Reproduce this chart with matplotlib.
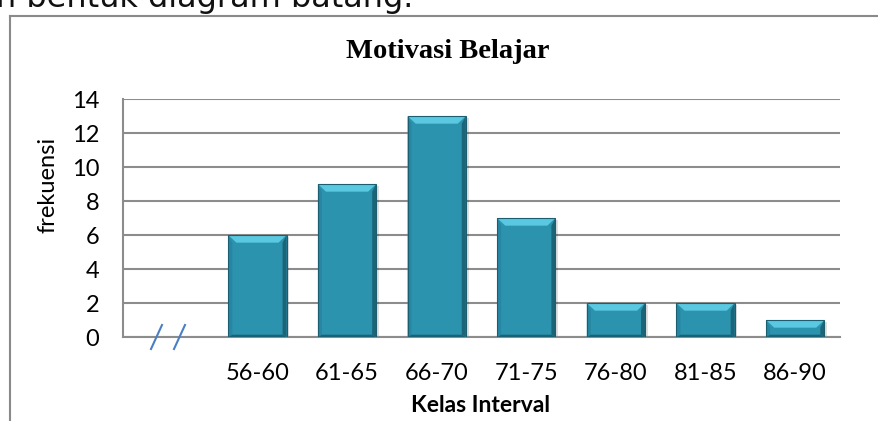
import matplotlib
matplotlib.use("Agg")
import matplotlib.pyplot as plt
from matplotlib.patches import Polygon, Rectangle
from matplotlib.lines import Line2D

# data
kelas = ["", "56-60", "61-65", "66-70", "71-75", "76-80", "81-85", "86-90"]
frekuensi = [0, 6, 9, 13, 7, 2, 2, 1]
y_ticks = [0, 2, 4, 6, 8, 10, 12, 14]

W, H = 879, 421
BAR_W = 0.65
GRID = "#8c8c8c"

fig = plt.figure(figsize=(W / 100, H / 100), dpi=100)
ax = fig.add_axes([123 / W, 1 - 337 / H, (840 - 123) / W, (337 - 99) / H])

x = list(range(len(kelas)))
ax.set_xlim(-0.5, len(kelas) - 0.5)
ax.set_ylim(0, 14)
ax.set_yticks(y_ticks)
ax.set_xticks(x)
ax.set_xticklabels(kelas)
ax.yaxis.grid(True, color=GRID, linewidth=1.5)
ax.set_axisbelow(True)
for s in ["top", "right"]:
    ax.spines[s].set_visible(False)
for s in ["left", "bottom"]:
    ax.spines[s].set_color(GRID)
    ax.spines[s].set_linewidth(1.5)
ax.tick_params(length=0, labelsize=17, colors="black")
ax.tick_params(axis="y", pad=17)
ax.tick_params(axis="x", pad=19)
for t in ax.get_xticklabels() + ax.get_yticklabels():
    t.set_fontfamily("Lato")

bars = ax.bar(x, frekuensi, width=BAR_W, color="#2c93af", zorder=3)

# bevelled look on each bar, built from the bar geometry
bx = 0.09   # bevel width in data x
by = 0.45   # bevel height in data y
for b in bars:
    x0, w, h = b.get_x(), b.get_width(), b.get_height()
    if h <= 0:
        continue
    x1 = x0 + w
    bh = min(by, h * 0.45)
    ax.add_patch(Rectangle((x0 + 0.03, -0.12), w, h, color="#000000", alpha=0.12, zorder=2, lw=0))
    ax.add_patch(Polygon([(x0, 0), (x0 + bx * 0.5, bh * 0.3), (x0 + bx * 0.5, h - bh), (x0, h)],
                         closed=True, color="#2786a3", zorder=4, lw=0))
    ax.add_patch(Polygon([(x1, 0), (x1 - bx * 0.5, bh * 0.3), (x1 - bx * 0.5, h - bh), (x1, h)],
                         closed=True, color="#1c6579", zorder=4, lw=0))
    ax.add_patch(Polygon([(x0, 0), (x1, 0), (x1 - bx * 0.5, bh * 0.3), (x0 + bx * 0.5, bh * 0.3)],
                         closed=True, color="#1d6175", zorder=4, lw=0))
    ax.add_patch(Polygon([(x0, h), (x1, h), (x1 - bx, h - bh), (x0 + bx, h - bh)],
                         closed=True, color="#5ac8e0", zorder=4, lw=0))
    ax.add_patch(Rectangle((x0, 0), w, h, fill=False, ec="#1a5e70", lw=0.8, zorder=5))

# axis break marks under the empty first category
for xs in [(151, 162), (174, 185)]:
    fig.add_artist(Line2D([xs[0] / W, xs[1] / W], [1 - 349 / H, 1 - 325 / H],
                          color="#4a7fc4", lw=1.5))

fig.text(448 / W, 1 - 52 / H, "Motivasi Belajar", ha="center", va="center",
         fontsize=20.5, fontweight="bold", family="Liberation Serif")
fig.text(481 / W, 1 - 405 / H, "Kelas Interval", ha="center", va="center",
         fontsize=16.5, fontweight="bold", family="Lato")
fig.text(48 / W, 1 - 185 / H, "frekuensi", ha="center", va="center",
         rotation=90, fontsize=17, family="Lato")

# page text cut off above the chart and the chart frame
fig.text(-4 / W, 1 - 7 / H, "n bentuk diagram batang.", ha="left", va="baseline",
         fontsize=23, family="DejaVu Sans", color="#111111")
fig.add_artist(Line2D([10 / W, 1], [1 - 15.5 / H, 1 - 15.5 / H], color="#8a8a8a", lw=1.5))
fig.add_artist(Line2D([10 / W, 10 / W], [0, 1 - 15.5 / H], color="#8a8a8a", lw=1.5))

fig.savefig("out.png", dpi=100)
